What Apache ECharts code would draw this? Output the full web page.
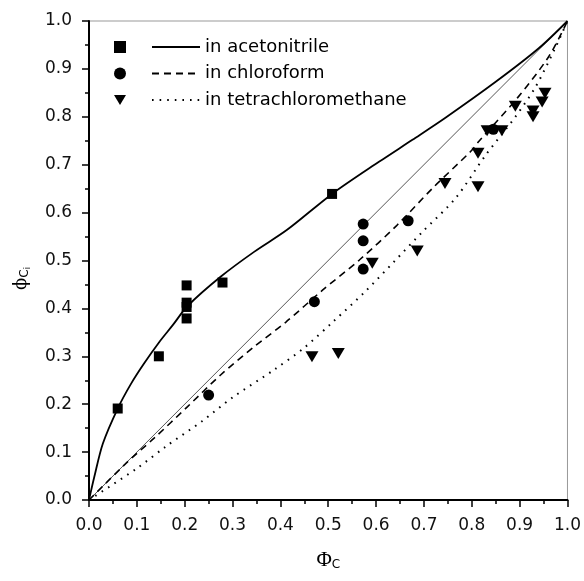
<!DOCTYPE html>
<html>
<head>
<meta charset="utf-8">
<script src="https://cdn.jsdelivr.net/npm/echarts@6/dist/echarts.min.js"></script>
<style>
  html, body { margin: 0; padding: 0; background: #fff; }
  #chart { width: 584px; height: 581px; }
</style>
</head>
<body>
<div id="chart"></div>
<script>
// measured points [Φc, φci]
var acetonitrilePts = [[0.060, 0.191], [0.146, 0.300], [0.204, 0.448], [0.204, 0.412], [0.204, 0.403], [0.204, 0.379], [0.279, 0.454], [0.508, 0.639]]
var chloroformPts = [[0.250, 0.219], [0.471, 0.414], [0.573, 0.576], [0.573, 0.541], [0.573, 0.482], [0.667, 0.583], [0.845, 0.774]]
var tetraPts = [[0.466, 0.299], [0.521, 0.306], [0.592, 0.494], [0.686, 0.520], [0.744, 0.661], [0.813, 0.654], [0.813, 0.724],
  [0.832, 0.771], [0.863, 0.771], [0.891, 0.822], [0.928, 0.800], [0.928, 0.812], [0.947, 0.831], [0.953, 0.849]]

// fitted curves
var acetonitrileFit = [[0, 0], [0.011, 0.048], [0.029, 0.118], [0.060, 0.191], [0.088, 0.243], [0.115, 0.285], [0.147, 0.330],
  [0.175, 0.365], [0.206, 0.405], [0.275, 0.466], [0.345, 0.518], [0.414, 0.564], [0.508, 0.639], [0.606, 0.706],
  [0.676, 0.752], [0.745, 0.798], [0.850, 0.873], [0.940, 0.943], [1, 1]]
var chloroformFit = [[0, 0], [0.081, 0.080], [0.136, 0.129], [0.206, 0.195], [0.275, 0.261], [0.345, 0.320], [0.411, 0.371],
  [0.488, 0.438], [0.565, 0.501], [0.644, 0.574], [0.721, 0.654], [0.797, 0.727], [0.815, 0.749], [0.895, 0.839],
  [0.961, 0.926], [1, 1]]
var tetraFit = [[0, 0], [0.100, 0.066], [0.161, 0.112], [0.237, 0.165], [0.300, 0.214], [0.387, 0.272], [0.450, 0.318],
  [0.512, 0.374], [0.575, 0.433], [0.638, 0.498], [0.697, 0.560], [0.766, 0.630], [0.829, 0.720], [0.891, 0.800],
  [0.933, 0.862], [0.975, 0.945], [1, 1]]
var diagonal = [[0, 0], [1, 1]]

var seriesNames = ['in acetonitrile', 'in chloroform', 'in tetrachloromethane']
var pointNames = ['acetonitrile pts', 'chloroform pts', 'tetrachloromethane pts']

var font = 'DejaVu Sans'
var downTriangle = 'path://M0,0 L12,0 L6,10 Z'
var myChart = echarts.init(document.getElementById('chart'))

function axisCommon() {
  return {
    type: 'value',
    min: 0,
    max: 1,
    interval: 0.1,
    axisLine: { show: true, onZero: false, lineStyle: { color: '#000', width: 2 } },
    axisTick: { show: true, inside: false, length: 7, lineStyle: { color: '#000', width: 1.5 } },
    minorTick: { show: true, splitNumber: 2, length: 4, lineStyle: { color: '#000', width: 1.5 } },
    splitLine: { show: false },
    axisLabel: {
      margin: 17,
      color: '#111',
      fontFamily: font,
      fontSize: 17,
      formatter: function (v) { return v.toFixed(1) }
    }
  }
}

var xAxis = axisCommon()
xAxis.name = '{a|Φ}{b|C}'
xAxis.nameLocation = 'middle'
xAxis.nameGap = 50
xAxis.nameTextStyle = {
  rich: {
    a: { fontFamily: 'Liberation Serif', fontSize: 21, color: '#000' },
    b: { fontFamily: font, fontSize: 12, color: '#000', verticalAlign: 'bottom' }
  }
}

var yAxis = axisCommon()
yAxis.name = '{a|ϕ}{b|C}{c|i}{d|}'
yAxis.nameLocation = 'middle'
yAxis.nameGap = 57
yAxis.nameTextStyle = {
  rich: {
    a: { fontFamily: 'DejaVu Serif', fontSize: 18, color: '#000', lineHeight: 22 },
    b: { fontFamily: font, fontSize: 12, color: '#000', verticalAlign: 'bottom', padding: [0, 0, 1, 0] },
    c: { fontFamily: font, fontSize: 8, color: '#000', verticalAlign: 'bottom' },
    d: { width: 36 }
  }
}

var option = {
  backgroundColor: '#fff',
  animation: false,
  color: ['#000'],
  grid: { left: 89, right: 15, top: 21, bottom: 81, show: true, borderColor: '#999', borderWidth: 1 },
  legend: [
    {
      // marker column
      data: [
        { name: pointNames[0] },
        { name: pointNames[1] },
        { name: pointNames[2], icon: downTriangle }
      ],
      orient: 'vertical',
      left: 109,
      top: 36,
      itemWidth: 12,
      itemHeight: 12,
      itemGap: 14.5,
      formatter: function () { return '' },
      selectedMode: false
    },
    {
      // line column with labels
      data: seriesNames,
      orient: 'vertical',
      left: 146,
      top: 32,
      itemWidth: 48,
      itemHeight: 14,
      itemGap: 6.5,
      selectedMode: false,
      itemStyle: { opacity: 0 },
      textStyle: { fontFamily: font, fontSize: 18, lineHeight: 20, color: '#000' }
    }
  ],
  xAxis: xAxis,
  yAxis: yAxis,
  series: [
    {
      name: 'diagonal',
      type: 'line',
      data: diagonal,
      symbol: 'none',
      lineStyle: { color: '#555', width: 1 },
      z: 2
    },
    {
      name: seriesNames[0],
      type: 'line',
      data: acetonitrileFit,
      symbol: 'none',
      smooth: 0.3,
      itemStyle: { color: '#000' },
      lineStyle: { color: '#000', width: 1.8, type: 'solid' },
      z: 3
    },
    {
      name: seriesNames[1],
      type: 'line',
      data: chloroformFit,
      symbol: 'none',
      smooth: 0.3,
      itemStyle: { color: '#000' },
      lineStyle: { color: '#000', width: 1.6, type: [7, 5] },
      z: 3
    },
    {
      name: seriesNames[2],
      type: 'line',
      data: tetraFit,
      symbol: 'none',
      smooth: 0.3,
      itemStyle: { color: '#000' },
      lineStyle: { color: '#000', width: 2, type: [1.6, 6] },
      z: 3
    },
    {
      name: pointNames[0],
      type: 'scatter',
      data: acetonitrilePts,
      symbol: 'rect',
      symbolSize: 10,
      itemStyle: { color: '#000', opacity: 1 },
      z: 5
    },
    {
      name: pointNames[1],
      type: 'scatter',
      data: chloroformPts,
      symbol: 'circle',
      symbolSize: 11,
      itemStyle: { color: '#000', opacity: 1 },
      z: 5
    },
    {
      name: pointNames[2],
      type: 'scatter',
      data: tetraPts,
      symbol: downTriangle,
      symbolSize: [13, 11],
      itemStyle: { color: '#000', opacity: 1 },
      z: 5
    }
  ]
}

myChart.setOption(option)
window.onresize = myChart.resize
</script>
</body>
</html>
